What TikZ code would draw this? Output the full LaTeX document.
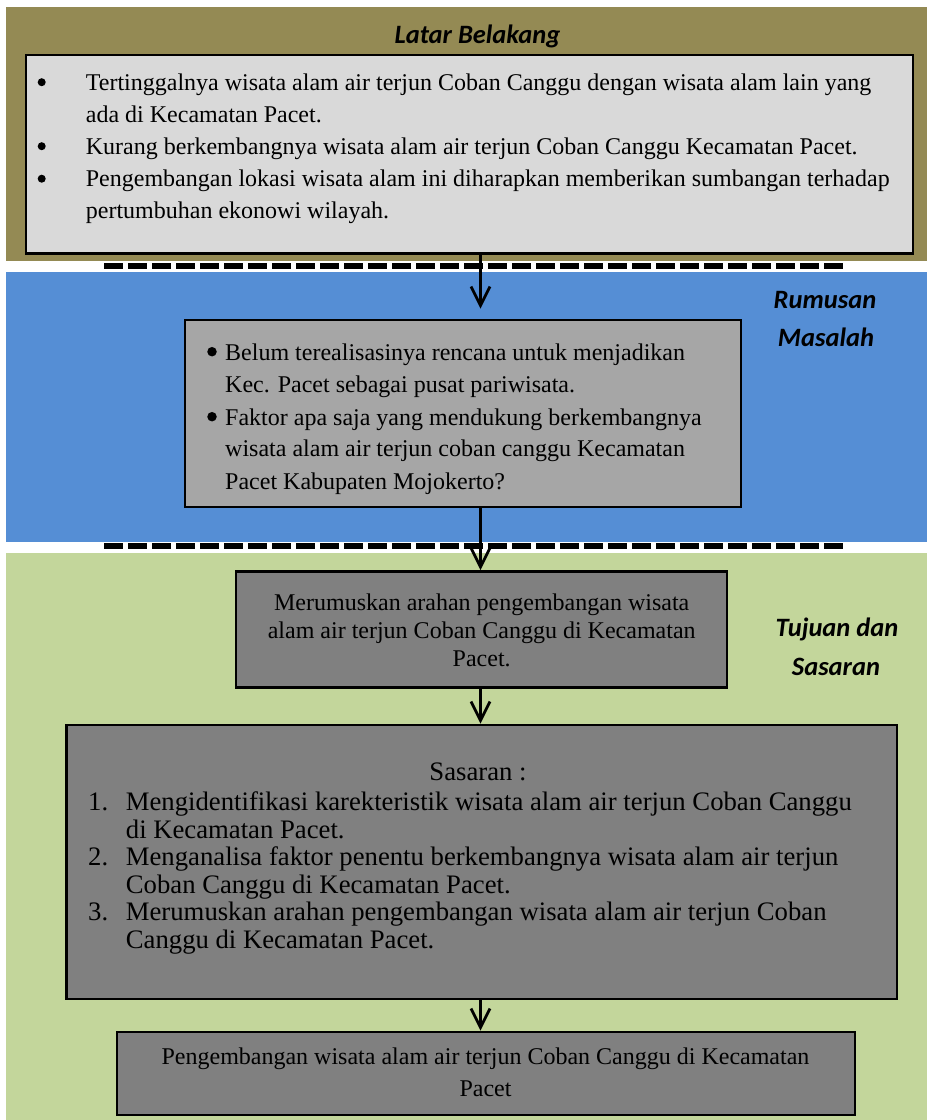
\documentclass[tikz,border=0pt]{standalone}
\usepackage{fontspec}
\setmainfont{Liberation Serif}
\newfontfamily\hdfont{Carlito}
\usetikzlibrary{arrows.meta}
\definecolor{olivebg}{HTML}{948A54}
\definecolor{bluebg}{HTML}{558ED5}
\definecolor{greenbg}{HTML}{C3D69B}
\definecolor{lightbox}{HTML}{D9D9D9}
\definecolor{midbox}{HTML}{A6A6A6}
\definecolor{darkbox}{HTML}{808080}
\tikzset{
  box/.style={draw=black, line width=2.6pt, inner sep=0pt, rectangle},
  txt/.style={anchor=base west, inner sep=0pt, font=\fontsize{24}{28}\selectfont},
  ctxt/.style={anchor=base, inner sep=0pt, font=\fontsize{24}{28}\selectfont},
  bigtxt/.style={anchor=base west, inner sep=0pt, font=\fontsize{26.7}{28}\selectfont},
  bul/.style={circle, fill=black, inner sep=0pt, minimum size=#1},
  bul/.default=8pt,
  head/.style={anchor=base, inner sep=0pt, font=\hdfont\bfseries\itshape\fontsize{26.5}{30}\selectfont},
  dashline/.style={line width=6pt, dash pattern=on 19pt off 5pt},
  arr/.style={line width=2.8pt, -{Straight Barb[length=19pt,width=19pt]}}
}
\begin{document}
\begin{tikzpicture}[x=1pt,y=-1pt]
\useasboundingbox (0,0) rectangle (929,1120);
% bands
\fill[olivebg] (6,6.7) rectangle (927,261);
\fill[bluebg] (6,272.3) rectangle (927,541.7);
\fill[greenbg] (6,553) rectangle (927,1120);
% dashed separators
\draw[dashline] (104,265.7) -- (844,265.7);
\draw[dashline] (104,546.3) -- (844,546.3);
% boxes
\node[box, fill=lightbox, minimum width=887pt, minimum height=198.5pt] (b1) at (469.5,154.25) {};
\node[box, fill=midbox, minimum width=556pt, minimum height=187pt] (b2) at (463,413.5) {};
\node[box, fill=darkbox, minimum width=491pt, minimum height=116pt] (b3) at (481.5,629.5) {};
\node[box, fill=darkbox, minimum width=830.5pt, minimum height=274pt] (b4) at (481.75,862) {};
\node[box, fill=darkbox, minimum width=738pt, minimum height=83pt] (b5) at (486,1073.5) {};
% headings
\node[head] (h1) at (477.5,43) {Latar Belakang};
\node[head] (h2a) at (825,308) {Rumusan};
\node[head] (h2b) at (826,346) {Masalah};
\node[head] (h3a) at (837,636.6) {Tujuan dan};
\node[head] (h3b) at (836,675) {Sasaran};
% box 1 text
\node[bul] (p1a) at (41.7,82.2) {};
\node[bul] (p1b) at (41.7,146.2) {};
\node[bul] (p1c) at (41.7,178.7) {};
\node[txt] (t1a) at (85.7,90) {Tertinggalnya wisata alam air terjun Coban Canggu dengan wisata alam lain yang};
\node[txt] (t1b) at (85.7,122) {ada di Kecamatan Pacet.};
\node[txt] (t1c) at (85.7,154) {Kurang berkembangnya wisata alam air terjun Coban Canggu Kecamatan Pacet.};
\node[txt] (t1d) at (85.7,186.5) {Pengembangan lokasi wisata alam ini diharapkan memberikan sumbangan terhadap};
\node[txt] (t1e) at (85.7,218.5) {pertumbuhan ekonowi wilayah.};
% box 2 text
\node[bul=9.5pt] (p2a) at (212,351.7) {};
\node[bul=9.5pt] (p2b) at (212,416.7) {};
\node[txt] (t2a) at (225,360) {Belum terealisasinya rencana untuk menjadikan};
\node[txt] (t2b) at (225,392.3) {Kec. Pacet sebagai pusat pariwisata.};
\node[txt] (t2c) at (225,425) {Faktor apa saja yang mendukung berkembangnya};
\node[txt] (t2d) at (225,456.7) {wisata alam air terjun coban canggu Kecamatan};
\node[txt] (t2e) at (225,489) {Pacet Kabupaten Mojokerto?};
% box 3 text
\node[ctxt] (t3a) at (481.7,610.7) {Merumuskan arahan pengembangan wisata};
\node[ctxt] (t3b) at (481.7,638.3) {alam air terjun Coban Canggu di Kecamatan};
\node[ctxt] (t3c) at (481.7,666) {Pacet.};
% box 4 text
\node[anchor=base, inner sep=0pt, font=\fontsize{26.7}{28}\selectfont] (t4h) at (478,780) {Sasaran :};
\node[bigtxt] (n4a) at (88,810.7) {1.};
\node[bigtxt] (n4b) at (88,865.7) {2.};
\node[bigtxt] (n4c) at (88,920.7) {3.};
\node[bigtxt] (t4a) at (125.7,810.7) {Mengidentifikasi karekteristik wisata alam air terjun Coban Canggu};
\node[bigtxt] (t4b) at (125.7,838.2) {di Kecamatan Pacet.};
\node[bigtxt] (t4c) at (125.7,865.7) {Menganalisa faktor penentu berkembangnya wisata alam air terjun};
\node[bigtxt] (t4d) at (125.7,893.2) {Coban Canggu di Kecamatan Pacet.};
\node[bigtxt] (t4e) at (125.7,920.7) {Merumuskan arahan pengembangan wisata alam air terjun Coban};
\node[bigtxt] (t4f) at (125.7,948.2) {Canggu di Kecamatan Pacet.};
% box 5 text
\node[ctxt] (t5a) at (485.5,1064) {Pengembangan wisata alam air terjun Coban Canggu di Kecamatan};
\node[ctxt] (t5b) at (485.5,1096.7) {Pacet};
% arrows
\coordinate (ax) at (480.5,0);
\draw[arr, shorten >=10pt] (b1.south -| ax) -- (b2.north -| ax);
\draw[arr] (b2.south -| ax) -- (b3.north -| ax);
\draw[arr] (b3.south -| ax) -- (b4.north -| ax);
\draw[arr] (b4.south -| ax) -- (b5.north -| ax);
\end{tikzpicture}
\end{document}
